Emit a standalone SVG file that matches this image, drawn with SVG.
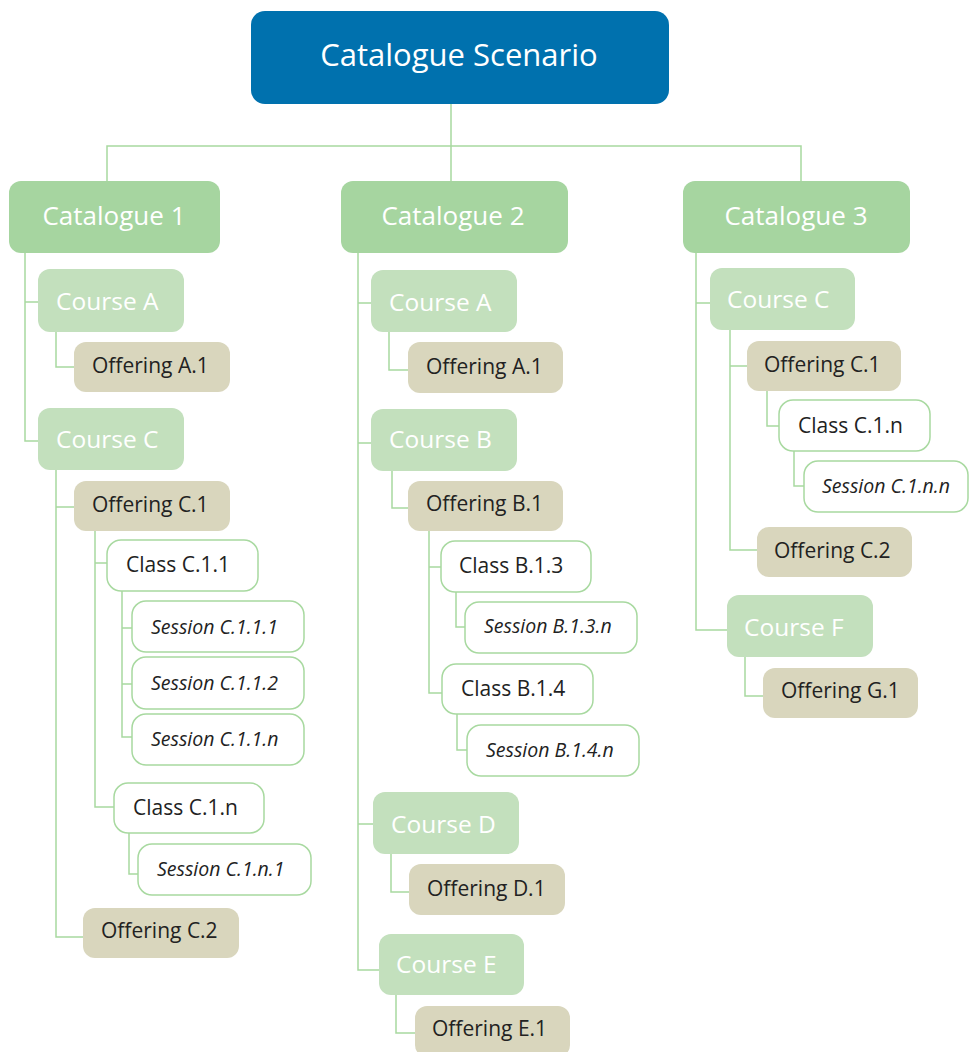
<svg xmlns="http://www.w3.org/2000/svg" width="969" height="1052" viewBox="0 0 969 1052">
<style>
.top{fill:#0071ae}
.cat{fill:#a6d5a0}
.crs{fill:#c3e0bd}
.off{fill:#d9d6bd}
.cls{fill:#ffffff;stroke:#a8d9a0;stroke-width:1.5}
.ln{fill:none;stroke:#a8d9a0;stroke-width:1.5}
text{font-family:"Open Sans","Noto Sans","DejaVu Sans",sans-serif}
.tt{fill:#ffffff;font-size:31px}
.tc{fill:#ffffff;font-size:26px}
.tr{fill:#ffffff;font-size:24.5px}
.to{fill:#222222;font-size:21px}
.tl{fill:#222222;font-size:21px}
.ts{fill:#222222;font-size:19.5px;font-style:italic}
</style>
<rect width="969" height="1052" fill="#ffffff"/>
<g id="connectors" class="ln">
<path d="M451,104 V146 M107,181 V146 H801 V181 M451,146 V181"/>
<path d="M25,253 V441 H38 M25,302 H38"/>
<path d="M56,332 V367 H74"/>
<path d="M56,470 V937 H83 M56,507 H74"/>
<path d="M95,531 V807 H114 M95,563 H107"/>
<path d="M122,591 V737 H132 M122,628 H132 M122,684 H132"/>
<path d="M129,833 V874 H138"/>
<path d="M358,253 V970 H379 M358,303 H371 M358,443 H371 M358,824 H373"/>
<path d="M389,332 V370 H408"/>
<path d="M392,471 V508 H408"/>
<path d="M429,531 V693 H442 M429,567 H441"/>
<path d="M456,592 V627 H465"/>
<path d="M457,714 V750 H467"/>
<path d="M391,854 V892 H409"/>
<path d="M396,995 V1033 H415"/>
<path d="M696,253 V630 H727 M696,303 H710"/>
<path d="M730,330 V550 H757 M730,366 H747"/>
<path d="M767,391 V426 H779"/>
<path d="M794,451 V486 H804"/>
<path d="M745,657 V696 H763"/>
</g>
<g id="root"><rect class="top" x="251" y="11" width="418" height="93" rx="14"/><text class="tt" x="459" y="66" text-anchor="middle">Catalogue Scenario</text></g>
<g id="cat1"><rect class="cat" x="9" y="181" width="211" height="72" rx="12"/><text class="tc" x="114" y="225" text-anchor="middle">Catalogue 1</text></g>
<g id="cat2"><rect class="cat" x="341" y="181" width="227" height="72" rx="12"/><text class="tc" x="453" y="225" text-anchor="middle">Catalogue 2</text></g>
<g id="cat3"><rect class="cat" x="683" y="181" width="227" height="72" rx="12"/><text class="tc" x="796" y="225" text-anchor="middle">Catalogue 3</text></g>

<g id="c1-courseA"><rect class="crs" x="38" y="269" width="146" height="63" rx="12"/><text class="tr" x="56" y="310">Course A</text></g>
<g id="c1-offA1"><rect class="off" x="74" y="342" width="156" height="50" rx="12"/><text class="to" x="92" y="373">Offering A.1</text></g>
<g id="c1-courseC"><rect class="crs" x="38" y="408" width="146" height="62" rx="12"/><text class="tr" x="56" y="448">Course C</text></g>
<g id="c1-offC1"><rect class="off" x="74" y="481" width="156" height="50" rx="12"/><text class="to" x="92" y="512">Offering C.1</text></g>
<g id="c1-classC11"><rect class="cls" x="107" y="540" width="151" height="51" rx="14"/><text class="tl" x="126" y="572">Class C.1.1</text></g>
<g id="c1-sessC111"><rect class="cls" x="132" y="601" width="172" height="51" rx="14"/><text class="ts" x="151" y="634">Session C.1.1.1</text></g>
<g id="c1-sessC112"><rect class="cls" x="132" y="657" width="172" height="52" rx="14"/><text class="ts" x="151" y="690">Session C.1.1.2</text></g>
<g id="c1-sessC11n"><rect class="cls" x="132" y="714" width="172" height="51" rx="14"/><text class="ts" x="151" y="746">Session C.1.1.n</text></g>
<g id="c1-classC1n"><rect class="cls" x="114" y="783" width="150" height="50" rx="14"/><text class="tl" x="133" y="815">Class C.1.n</text></g>
<g id="c1-sessC1n1"><rect class="cls" x="138" y="844" width="173" height="51" rx="14"/><text class="ts" x="157" y="876">Session C.1.n.1</text></g>
<g id="c1-offC2"><rect class="off" x="83" y="908" width="156" height="50" rx="12"/><text class="to" x="101" y="938">Offering C.2</text></g>

<g id="c2-courseA"><rect class="crs" x="371" y="270" width="146" height="62" rx="12"/><text class="tr" x="389" y="311">Course A</text></g>
<g id="c2-offA1"><rect class="off" x="408" y="342" width="155" height="51" rx="12"/><text class="to" x="426" y="374">Offering A.1</text></g>
<g id="c2-courseB"><rect class="crs" x="371" y="409" width="146" height="62" rx="12"/><text class="tr" x="389" y="448">Course B</text></g>
<g id="c2-offB1"><rect class="off" x="408" y="481" width="155" height="50" rx="12"/><text class="to" x="426" y="511">Offering B.1</text></g>
<g id="c2-classB13"><rect class="cls" x="441" y="541" width="150" height="51" rx="14"/><text class="tl" x="459" y="573">Class B.1.3</text></g>
<g id="c2-sessB13n"><rect class="cls" x="465" y="602" width="172" height="51" rx="14"/><text class="ts" x="484" y="633">Session B.1.3.n</text></g>
<g id="c2-classB14"><rect class="cls" x="442" y="664" width="151" height="50" rx="14"/><text class="tl" x="461" y="696">Class B.1.4</text></g>
<g id="c2-sessB14n"><rect class="cls" x="467" y="725" width="172" height="51" rx="14"/><text class="ts" x="486" y="757">Session B.1.4.n</text></g>
<g id="c2-courseD"><rect class="crs" x="373" y="792" width="146" height="62" rx="12"/><text class="tr" x="391" y="833">Course D</text></g>
<g id="c2-offD1"><rect class="off" x="409" y="864" width="156" height="51" rx="12"/><text class="to" x="427" y="896">Offering D.1</text></g>
<g id="c2-courseE"><rect class="crs" x="379" y="934" width="145" height="61" rx="12"/><text class="tr" x="396" y="973">Course E</text></g>
<g id="c2-offE1"><rect class="off" x="415" y="1006" width="155" height="51" rx="12"/><text class="to" x="432" y="1036">Offering E.1</text></g>

<g id="c3-courseC"><rect class="crs" x="710" y="268" width="145" height="62" rx="12"/><text class="tr" x="727" y="308">Course C</text></g>
<g id="c3-offC1"><rect class="off" x="747" y="341" width="154" height="50" rx="12"/><text class="to" x="764" y="372">Offering C.1</text></g>
<g id="c3-classC1n"><rect class="cls" x="779" y="400" width="151" height="51" rx="14"/><text class="tl" x="798" y="433">Class C.1.n</text></g>
<g id="c3-sessC1nn"><rect class="cls" x="804" y="461" width="164" height="51" rx="14"/><text class="ts" x="822" y="493">Session C.1.n.n</text></g>
<g id="c3-offC2"><rect class="off" x="757" y="527" width="155" height="50" rx="12"/><text class="to" x="774" y="558">Offering C.2</text></g>
<g id="c3-courseF"><rect class="crs" x="727" y="595" width="146" height="62" rx="12"/><text class="tr" x="744" y="636">Course F</text></g>
<g id="c3-offG1"><rect class="off" x="763" y="668" width="155" height="50" rx="12"/><text class="to" x="781" y="698">Offering G.1</text></g>
</svg>
